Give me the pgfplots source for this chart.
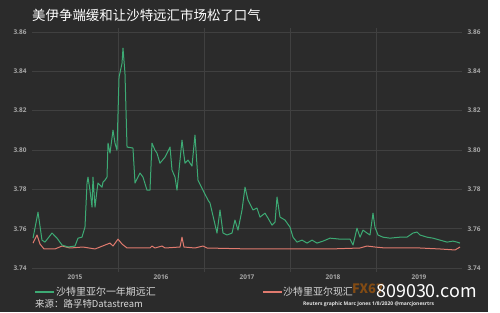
\documentclass[border=0pt]{standalone}
\usepackage{pgfplots}
\pgfplotsset{compat=1.18}
\usepackage{fontspec}
\setmainfont{Noto Sans CJK SC}
\newfontfamily\tickfont{Open Sans}
\definecolor{bg}{HTML}{2B2B2B}
\definecolor{gridc}{HTML}{404040}
\definecolor{fwd}{HTML}{3DAA74}
\definecolor{spot}{HTML}{E07A6E}
\definecolor{tickc}{HTML}{A8A8A8}
\definecolor{boxg}{HTML}{2E9E5E}
\definecolor{boxr}{HTML}{E06C64}

\pgfplotstableread{
x y
2015.012 3.7552
2015.070 3.7684
2015.116 3.7542
2015.151 3.7532
2015.233 3.7578
2015.291 3.7552
2015.349 3.7517
2015.419 3.7507
2015.500 3.7512
2015.535 3.7552
2015.581 3.7557
2015.616 3.7608
2015.640 3.7832
2015.651 3.7862
2015.674 3.7796
2015.698 3.7710
2015.709 3.7862
2015.733 3.7710
2015.756 3.7796
2015.767 3.7832
2015.814 3.7811
2015.826 3.7837
2015.849 3.7847
2015.872 3.7862
2015.884 3.8035
2015.907 3.7984
2015.942 3.8101
2015.965 3.8035
2015.988 3.7999
2016.012 3.8370
2016.047 3.8441
2016.058 3.8518
2016.081 3.8391
2016.105 3.8015
2016.174 3.8010
2016.198 3.7832
2016.256 3.7883
2016.291 3.7862
2016.337 3.7796
2016.372 3.7796
2016.395 3.8035
2016.430 3.7999
2016.453 3.7984
2016.488 3.7933
2016.547 3.7964
2016.605 3.8015
2016.628 3.7898
2016.663 3.7862
2016.686 3.7796
2016.744 3.8050
2016.779 3.7933
2016.814 3.7949
2016.860 3.7918
2016.895 3.8076
2016.930 3.7847
2016.988 3.7796
2017.047 3.7745
2017.070 3.7730
2017.151 3.7578
2017.186 3.7695
2017.221 3.7578
2017.267 3.7568
2017.326 3.7578
2017.360 3.7644
2017.395 3.7593
2017.442 3.7695
2017.477 3.7811
2017.512 3.7745
2017.570 3.7695
2017.616 3.7705
2017.651 3.7659
2017.709 3.7679
2017.744 3.7654
2017.791 3.7618
2017.826 3.7634
2017.849 3.7761
2017.884 3.7659
2017.942 3.7644
2018.000 3.7608
2018.035 3.7557
2018.081 3.7532
2018.140 3.7542
2018.198 3.7527
2018.256 3.7542
2018.314 3.7527
2018.384 3.7537
2018.465 3.7552
2018.581 3.7547
2018.698 3.7547
2018.733 3.7517
2018.779 3.7603
2018.814 3.7557
2018.849 3.7593
2018.895 3.7578
2018.930 3.7568
2018.965 3.7679
2018.988 3.7608
2019.023 3.7568
2019.081 3.7557
2019.163 3.7552
2019.279 3.7557
2019.360 3.7557
2019.430 3.7578
2019.477 3.7583
2019.512 3.7568
2019.593 3.7557
2019.663 3.7552
2019.744 3.7542
2019.826 3.7532
2019.895 3.7537
2019.942 3.7532
2019.977 3.7527
}\fwdtable

\pgfplotstableread{
x y
2015.012 3.7527
2015.058 3.7568
2015.093 3.7522
2015.140 3.7497
2015.267 3.7497
2015.349 3.7512
2015.442 3.7502
2015.593 3.7507
2015.733 3.7497
2015.907 3.7527
2015.942 3.7512
2016.000 3.7547
2016.047 3.7522
2016.105 3.7502
2016.256 3.7502
2016.372 3.7502
2016.395 3.7512
2016.430 3.7502
2016.512 3.7512
2016.547 3.7502
2016.721 3.7507
2016.744 3.7557
2016.767 3.7507
2016.895 3.7502
2016.988 3.7512
2017.035 3.7502
2017.535 3.7497
2018.116 3.7497
2018.465 3.7497
2018.814 3.7502
2018.895 3.7512
2018.988 3.7507
2019.105 3.7502
2019.279 3.7502
2019.512 3.7502
2019.744 3.7497
2019.919 3.7492
2019.977 3.7507
}\spottable

\begin{document}
\begin{tikzpicture}[x=1bp,y=1bp]
\fill[white] (0,0) rectangle (500,312);
\fill[bg] (0,0) rectangle (488,312);
\useasboundingbox (0,0) rectangle (500,312);
\node[anchor=west, text=white, font=\fontsize{13.5}{14}\selectfont, inner sep=0pt] at (32,297) {美伊争端缓和让沙特远汇市场松了口气};

\pgfplotsset{common/.style={
  at={(32bp,40bp)}, anchor=south west,
  scale only axis, width=430bp, height=244bp,
  xmin=2015, xmax=2020, ymin=3.738, ymax=3.862,
  axis line style={draw=none}, tick style={draw=none},
  ytick={3.74,3.76,3.78,3.80,3.82,3.84,3.86},
  yticklabel style={/pgf/number format/fixed, /pgf/number format/fixed zerofill,
     /pgf/number format/precision=2, /pgf/number format/assume math mode=true,
     font=\tickfont\bfseries\fontsize{6.5}{7}\selectfont, text=tickc},
}}

\begin{axis}[common,
  xtick={2015.5,2016.5,2017.5,2018.5,2019.5},
  xticklabels={2015,2016,2017,2018,2019},
  xticklabel style={font=\tickfont\bfseries\fontsize{6.5}{7}\selectfont, text=tickc, yshift=1bp},
  minor xtick={2016,2017,2018,2019},
  xmajorgrids=false, xminorgrids=true, ymajorgrids=true,
  major grid style={gridc, line width=0.6bp},
  minor grid style={gridc, line width=0.6bp},
  yticklabel style={xshift=-2bp},
]
\addplot[spot, line width=1bp, line join=round] table[x=x,y=y] {\spottable}
  node[pos=1, anchor=west, xshift=2bp, yshift=-5bp, fill=boxr, text=white, inner sep=1.5bp, minimum width=12bp, font=\tickfont\fontsize{6}{6}\selectfont] {3.8};
\addplot[fwd, line width=1bp, line join=round] table[x=x,y=y] {\fwdtable}
  node[pos=1, anchor=west, xshift=2bp, yshift=3bp, fill=boxg, text=white, inner sep=1.5bp, minimum width=12bp, font=\tickfont\fontsize{6}{6}\selectfont] {3.8};
\end{axis}

\begin{axis}[common, hide x axis, yticklabel pos=right,
  yticklabel style={xshift=2bp}]
\end{axis}

% legend and notes
\draw[fwd, line width=1.2bp] (35,20) -- (54,20);
\node[anchor=west, text=white!85!black, font=\fontsize{10}{10}\selectfont, inner sep=0pt] at (56,20) {沙特里亚尔一年期远汇};
\draw[spot, line width=1.2bp] (263,20) -- (282,20);
\node[anchor=west, text=white!85!black, font=\fontsize{10}{10}\selectfont, inner sep=0pt] at (283,20) {沙特里亚尔现汇};
\node[anchor=west, text=white!85!black, font=\fontsize{9.5}{10}\selectfont, inner sep=0pt] at (35,8) {来源：路孚特Datastream};
\node[anchor=west, text=orange!80!black, opacity=0.55, font=\bfseries\fontsize{13}{13}\selectfont, inner sep=0pt] at (352,23) {FX67};
\node[anchor=west, text=white, font=\fontsize{18}{18}\selectfont, inner sep=0pt] at (376,21) {809030.com};
\node[anchor=west, text=white!90!black, font=\tickfont\bfseries\fontsize{5}{5}\selectfont, inner sep=0pt] at (303,8) {Reuters graphic Marc Jones 1/8/2020 @marcjonesrtrs};
\end{tikzpicture}
\end{document}
